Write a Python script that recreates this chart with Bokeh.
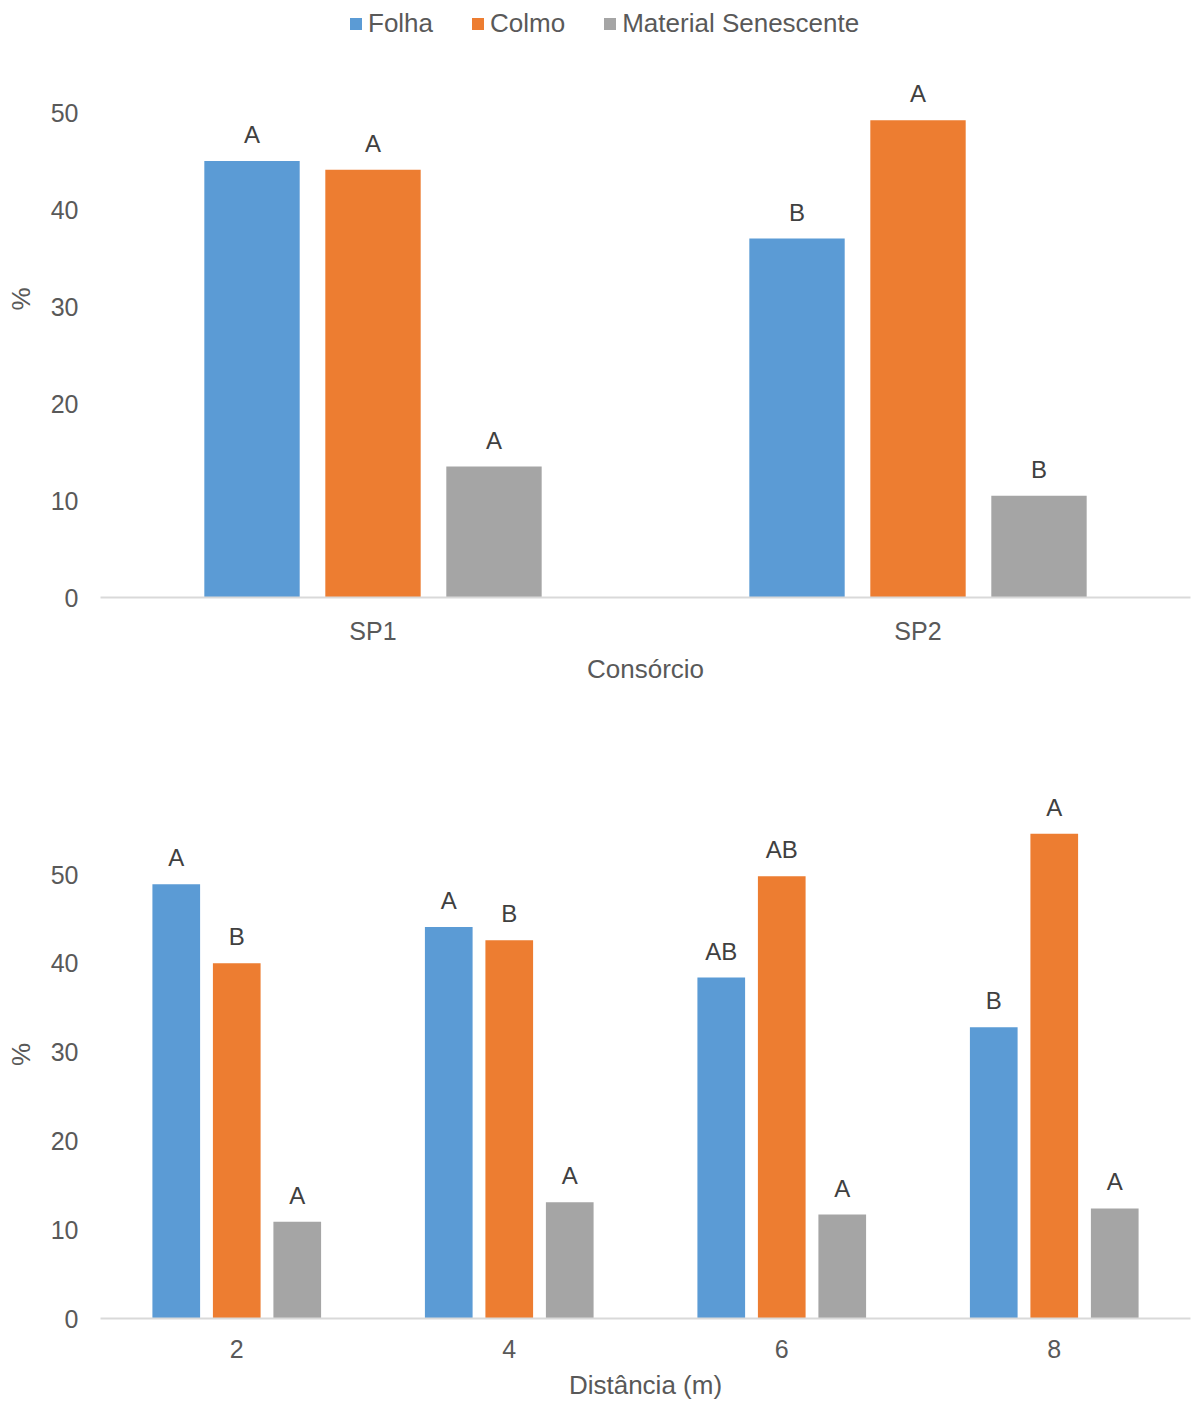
from bokeh.plotting import figure
from bokeh.models import ColumnDataSource, FactorRange, Range1d, FixedTicker, Legend, LegendItem
from bokeh.transform import dodge
from bokeh.core.properties import value
from bokeh.layouts import column
from bokeh.embed import file_html
from bokeh.resources import INLINE

series = ["Folha", "Colmo", "Material Senescente"]
colors = ["#5b9bd5", "#ed7d31", "#a5a5a5"]

consorcio = ["SP1", "SP2"]
cons_folha = [45.0, 37.0]
cons_colmo = [44.1, 49.2]
cons_mat = [13.5, 10.5]
cons_folha_lbl = ["A", "B"]
cons_colmo_lbl = ["A", "A"]
cons_mat_lbl = ["A", "B"]

distancia = ["2", "4", "6", "8"]
dist_folha = [48.9, 44.1, 38.4, 32.8]
dist_colmo = [40.0, 42.6, 49.8, 54.6]
dist_mat = [10.9, 13.1, 11.7, 12.4]
dist_folha_lbl = ["A", "A", "AB", "B"]
dist_colmo_lbl = ["B", "B", "AB", "A"]
dist_mat_lbl = ["A", "A", "A", "A"]

y_ticks = [0, 10, 20, 30, 40, 50]

FONT = "Liberation Sans"
TXT = "#595959"
OFFS = [-0.222, 0.0, 0.222]
BW = 0.175


def make_fig(cats, vals, lbls, xlabel, height, top, bottom, yend, tick_so, lab_so, legend=False):
    src = ColumnDataSource(dict(cat=cats,
                                v0=vals[0], v1=vals[1], v2=vals[2],
                                l0=lbls[0], l1=lbls[1], l2=lbls[2]))
    p = figure(x_range=FactorRange(*cats, range_padding=0), y_range=Range1d(0, yend),
               width=1191, height=height, output_backend="svg", toolbar_location=None,
               min_border_left=100, min_border_right=1, min_border_top=top,
               min_border_bottom=bottom)
    p.outline_line_color = None
    p.xgrid.grid_line_color = None
    p.ygrid.grid_line_color = None
    items = []
    for i in range(3):
        r = p.vbar(x=dodge("cat", OFFS[i], range=p.x_range), top="v%d" % i, width=BW,
                   source=src, fill_color=colors[i], line_color=None)
        items.append(LegendItem(label=series[i], renderers=[r]))
        p.text(x=dodge("cat", OFFS[i], range=p.x_range), y="v%d" % i, text="l%d" % i,
               source=src, text_align="center", text_baseline="bottom", y_offset=-13,
               text_font=value(FONT), text_font_size="24px", text_color="#404040")
    p.yaxis.ticker = FixedTicker(ticks=y_ticks)
    p.yaxis.axis_line_color = None
    p.yaxis.major_tick_line_color = None
    p.yaxis.minor_tick_line_color = None
    p.yaxis.major_tick_out = 0
    p.yaxis.major_tick_in = 0
    p.yaxis.major_label_standoff = 22
    p.yaxis.axis_label = "%"
    p.yaxis.axis_label_standoff = 12
    p.xaxis.axis_line_color = "#d9d9d9"
    p.xaxis.axis_line_width = 2
    p.xaxis.major_tick_line_color = None
    p.xaxis.major_tick_out = 0
    p.xaxis.major_tick_in = 0
    p.xaxis.major_label_standoff = tick_so
    p.xaxis.axis_label = xlabel
    p.xaxis.axis_label_standoff = lab_so
    for ax in (p.xaxis, p.yaxis):
        ax.major_label_text_font = FONT
        ax.major_label_text_font_size = "25px"
        ax.major_label_text_color = TXT
        ax.axis_label_text_font = FONT
        ax.axis_label_text_font_size = "26px"
        ax.axis_label_text_font_style = "normal"
        ax.axis_label_text_color = TXT
    if legend:
        lg = Legend(items=items, orientation="horizontal", location=(248, 558),
                    label_text_font=FONT, label_text_font_size="26px", label_text_color=TXT,
                    glyph_width=15, glyph_height=15, label_standoff=5, spacing=37,
                    padding=0, margin=0, border_line_color=None, background_fill_alpha=0)
        p.add_layout(lg, "center")
    return p


p1 = make_fig(consorcio, [cons_folha, cons_colmo, cons_mat],
              [cons_folha_lbl, cons_colmo_lbl, cons_mat_lbl], "Consórcio",
              700, 0, 103, 597 / 9.7, 19, 6, legend=True)
p2 = make_fig(distancia, [dist_folha, dist_colmo, dist_mat],
              [dist_folha_lbl, dist_colmo_lbl, dist_mat_lbl], "Distância (m)",
              704, 90, 86, 528 / 8.88, 21, 9)

layout = column(p1, p2, spacing=0)
open("out.html", "w").write(file_html(layout, INLINE))
